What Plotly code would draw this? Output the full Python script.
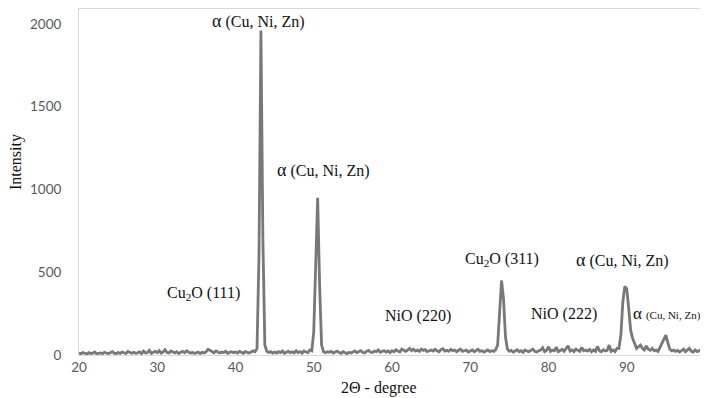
import plotly.graph_objects as go

# Scan grid (2-theta, degrees)
scan_start = 20.0
scan_step = 0.25

# Intensity, 0.25 deg steps, 5 degrees per row
intensity = [
    12, 8, 15, 10, 6, 14, 9, 11, 18, 7, 10, 13, 8, 16, 12, 9, 14, 20, 11, 8,          # 20-25
    15, 10, 18, 12, 9, 22, 14, 11, 16, 10, 13, 19, 8, 24, 12, 15, 28, 10, 17, 22,     # 25-30
    14, 26, 11, 18, 32, 15, 12, 24, 18, 13, 20, 9, 16, 22, 14, 25, 18, 12, 15, 10,    # 30-35
    13, 18, 9, 16, 12, 20, 34, 28, 18, 14, 24, 20, 12, 18, 15, 22, 10, 16, 20, 14,    # 35-40
    18, 12, 22, 16, 10, 20, 15, 12, 18, 25, 20, 40, 600, 1960, 700, 60, 22, 15, 20, 12,  # 40-45
    18, 12, 20, 15, 24, 10, 16, 22, 14, 19, 12, 26, 15, 20, 11, 24, 18, 14, 30, 25,   # 45-50
    140, 600, 950, 420, 60, 20, 14, 20, 16, 22, 12, 18, 24, 15, 10, 20, 14, 8, 16, 12,  # 50-55
    18, 24, 14, 20, 26, 16, 12, 22, 28, 18, 15, 24, 20, 30, 16, 22, 26, 18, 24, 14,   # 55-60
    26, 20, 32, 24, 18, 36, 28, 22, 30, 40, 26, 34, 24, 30, 22, 36, 28, 32, 20, 26,   # 60-65
    30, 24, 34, 26, 20, 32, 38, 24, 28, 22, 34, 26, 30, 20, 28, 36, 22, 26, 30, 18,   # 65-70
    24, 30, 20, 28, 34, 22, 26, 18, 24, 30, 20, 26, 22, 32, 60, 250, 450, 340, 110, 35,  # 70-75
    22, 28, 18, 24, 32, 20, 26, 16, 30, 24, 20, 28, 36, 22, 18, 26, 30, 44, 20, 28,   # 75-80
    50, 22, 30, 26, 48, 20, 28, 34, 22, 40, 56, 24, 30, 20, 36, 28, 22, 46, 26, 30,   # 80-85
    24, 34, 20, 30, 22, 52, 26, 20, 32, 24, 28, 60, 22, 30, 20, 40, 40, 120, 320, 415,  # 85-90
    400, 280, 150, 100, 70, 40, 50, 60, 40, 30, 55, 35, 28, 40, 25, 30, 22, 45, 70, 95,  # 90-95
    120, 75, 35, 25, 30, 22, 28, 18, 24, 35, 20, 28, 40, 22, 18, 30, 20, 26, 34, 22,  # 95-100
    8,
]
two_theta = [scan_start + i * scan_step for i in range(len(intensity))]

x_ticks = [20, 30, 40, 50, 60, 70, 80, 90, 100]
y_ticks = [0, 500, 1000, 1500, 2000]

# Peak labels: (text, 2-theta, intensity position)
label_text = [
    "<span style='font-size:18px'>α</span> (Cu, Ni, Zn)",
    "<span style='font-size:18px'>α</span> (Cu, Ni, Zn)",
    "Cu<sub>2</sub>O (111)",
    "NiO (220)",
    "Cu<sub>2</sub>O (311)",
    "<span style='font-size:18px'>α</span> (Cu, Ni, Zn)",
    "NiO (222)",
    "<span style='font-size:17px'>α</span> <span style='font-size:11px'>(Cu, Ni, Zn)</span>",
]
label_x = [42.9, 51.25, 35.9, 63.3, 74.1, 89.5, 82.0, 95.1]
label_y = [2018, 1118, 369, 236, 574, 574, 248, 248]

fig = go.Figure()
fig.add_trace(go.Scatter(
    x=two_theta, y=intensity, mode="lines",
    line=dict(color="#787878", width=2.8),
    hoverinfo="skip", showlegend=False,
))

for t, lx, ly in zip(label_text, label_x, label_y):
    fig.add_annotation(
        x=lx, y=ly, xref="x", yref="y", text=t, showarrow=False,
        font=dict(family="Liberation Serif", size=16, color="#111111"),
        xanchor="center", yanchor="middle",
    )

# Axis titles (paper coords relative to plot area: x 71..697, y 1..347 px)
fig.add_annotation(
    x=(8 - 71) / 626, y=(347 - 154) / 346, xref="paper", yref="paper",
    text="Intensity", textangle=-90, showarrow=False,
    font=dict(family="Liberation Serif", size=16, color="#111111"),
    xanchor="center", yanchor="middle",
)
fig.add_annotation(
    x=(371 - 71) / 626, y=(347 - 380) / 346, xref="paper", yref="paper",
    text="2Θ - degree", showarrow=False,
    font=dict(family="Liberation Serif", size=16, color="#111111"),
    xanchor="center", yanchor="middle",
)

tick_font = dict(family="Lato", size=13.5, color="#595959")
fig.update_layout(
    width=708, height=398,
    margin=dict(l=71, r=11, t=1, b=51),
    paper_bgcolor="white", plot_bgcolor="white",
    xaxis=dict(
        range=[20, 100], tickvals=x_ticks, ticks="", showgrid=False,
        zeroline=False, showline=True, linecolor="#d9d9d9", linewidth=1,
        mirror=True, tickfont=tick_font, ticklabelstandoff=0,
    ),
    yaxis=dict(
        range=[0, 2090], tickvals=y_ticks, ticks="", showgrid=False,
        zeroline=False, showline=True, linecolor="#d9d9d9", linewidth=1,
        mirror=True, tickfont=tick_font, ticklabelstandoff=14,
    ),
)

fig.write_html("out.html")
